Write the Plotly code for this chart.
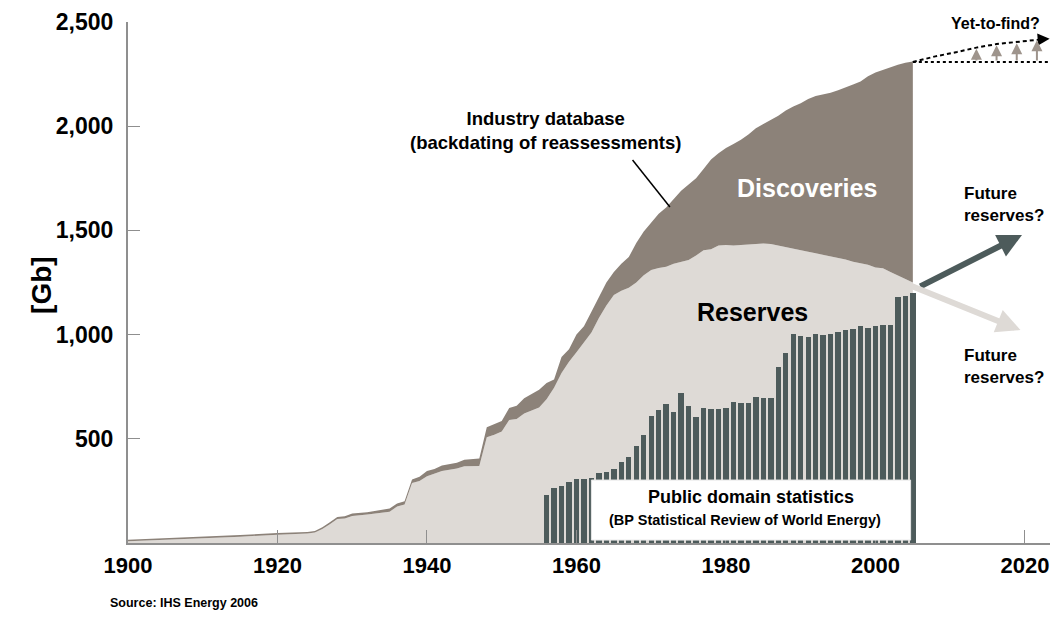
import plotly.graph_objects as go

# ---------------- data ----------------
area_years = [1900, 1905, 1910, 1915, 1920, 1924, 1925, 1926, 1927, 1928, 1929, 1930, 1932,
              1935, 1936, 1937, 1938, 1939, 1940, 1941, 1942, 1944, 1945, 1947, 1948, 1949,
              1950, 1951, 1952, 1953, 1954, 1955, 1956, 1957, 1958, 1959, 1960, 1961, 1962,
              1963, 1964, 1965, 1966, 1967, 1968, 1969, 1970, 1971, 1972, 1973, 1974, 1975,
              1976, 1977, 1978, 1979, 1980, 1981, 1982, 1983, 1984, 1985, 1986, 1987, 1988,
              1989, 1990, 1991, 1992, 1993, 1994, 1995, 1996, 1997, 1998, 1999, 2000, 2001,
              2002, 2003, 2004, 2005]
discoveries = [15, 22, 30, 38, 48, 53, 58, 75, 100, 125, 128, 142, 148,
               165, 190, 200, 305, 318, 345, 355, 372, 385, 400, 405, 555, 570,
               585, 648, 658, 695, 715, 735, 768, 785, 893, 930, 1000, 1040, 1110,
               1180, 1250, 1300, 1340, 1372, 1440, 1495, 1540, 1580, 1610, 1650, 1690, 1720,
               1750, 1795, 1840, 1870, 1895, 1915, 1935, 1960, 1990, 2010, 2030, 2050, 2075,
               2095, 2110, 2130, 2145, 2152, 2160, 2172, 2185, 2200, 2215, 2240, 2258, 2270,
               2285, 2295, 2305, 2310]
reserves = [8, 15, 22, 30, 40, 45, 50, 67, 90, 115, 118, 130, 137,
            150, 175, 185, 288, 298, 320, 332, 345, 358, 368, 370, 508, 520,
            535, 590, 595, 622, 635, 650, 690, 745, 816, 870, 915, 960, 1010,
            1080, 1140, 1190, 1210, 1225, 1250, 1285, 1310, 1320, 1325, 1340, 1350, 1358,
            1380, 1405, 1410, 1428, 1430, 1428, 1430, 1432, 1435, 1437, 1435, 1428, 1420,
            1415, 1405, 1398, 1390, 1383, 1375, 1368, 1360, 1350, 1344, 1335, 1322, 1318,
            1300, 1282, 1265, 1250]

bar_years = list(range(1956, 2006))
bp_reserves = [230, 265, 273, 294, 307, 307, 310, 334, 342, 355,
               390, 414, 467, 520, 611, 638, 667, 630, 718, 657,
               603, 646, 643, 643, 649, 678, 673, 673, 699, 696,
               696, 843, 911, 1003, 995, 990, 1003, 998, 1003, 1011,
               1022, 1027, 1041, 1030, 1041, 1046, 1046, 1182, 1185, 1198]

# yet-to-find sketch
ytf_flat_x = [2005, 2024]
ytf_flat_y = [2308, 2308]
ytf_curve_x = [2005, 2008, 2010.9, 2013.5, 2016.2, 2019, 2021.5, 2022.8]
ytf_curve_y = [2308, 2335, 2356, 2377, 2394, 2406, 2414, 2418]
ytf_arrow_x = [2013.5, 2016.2, 2018.9, 2021.6]
ytf_arrow_top = [2372, 2388, 2398, 2412]

x_ticks = [1900, 1920, 1940, 1960, 1980, 2000, 2020]
y_ticks = [500, 1000, 1500, 2000, 2500]
y_ticktext = ["500", "1,000", "1,500", "2,000", "2,500"]

X_RANGE = [1900, 2023.35]
Y_RANGE = [0, 2500]

FONT = "Liberation Sans, Arial, Helvetica, sans-serif"
C_DISC = "#8c8279"
C_RES = "#dedad6"
C_BAR = "#4d5b5b"
C_AXIS = "#8f8f8f"

fig = go.Figure()

fig.add_trace(go.Scatter(x=area_years, y=reserves, mode="lines", line=dict(width=0, color=C_RES),
                         fill="tozeroy", fillcolor=C_RES, showlegend=False, hoverinfo="skip"))
fig.add_trace(go.Scatter(x=area_years, y=discoveries, mode="lines", line=dict(width=0, color=C_DISC),
                         fill="tonexty", fillcolor=C_DISC, showlegend=False, hoverinfo="skip"))

# yet-to-find lines
fig.add_trace(go.Scatter(x=ytf_flat_x, y=ytf_flat_y, mode="lines",
                         line=dict(color="black", width=2, dash="dot"), showlegend=False,
                         cliponaxis=False))
fig.add_trace(go.Scatter(x=ytf_curve_x, y=ytf_curve_y, mode="lines",
                         line=dict(color="black", width=2, dash="4px,3px"), showlegend=False,
                         cliponaxis=False))

# bars on an overlaid axis so they sit above the areas
fig.add_trace(go.Bar(x=bar_years, y=bp_reserves, width=0.72, marker=dict(color=C_BAR, line=dict(width=0)),
                     xaxis="x2", yaxis="y2", showlegend=False))

# page has an 8px body margin and ~1050px visible width
fig.update_layout(
    width=1042, height=605,
    margin=dict(l=120, r=0, t=14, b=70),
    paper_bgcolor="white", plot_bgcolor="white",
    font=dict(family=FONT, color="black"),
    bargap=0,
    xaxis=dict(range=X_RANGE, tickvals=x_ticks, ticks="inside", ticklen=13, tickcolor=C_AXIS,
               tickwidth=1.2, showline=True, linecolor=C_AXIS, linewidth=2, showgrid=False,
               zeroline=False, tickfont=dict(size=22, weight="bold", family=FONT, color="black"),
               ticklabelstandoff=2),
    yaxis=dict(range=Y_RANGE, tickvals=y_ticks, ticktext=y_ticktext, ticks="inside", ticklen=12,
               tickcolor=C_AXIS, tickwidth=1.2, showline=True, linecolor=C_AXIS, linewidth=2,
               showgrid=False, zeroline=False,
               tickfont=dict(size=23, weight="bold", family=FONT, color="black"),
               ticklabelstandoff=8),
    xaxis2=dict(range=X_RANGE, overlaying="x", visible=False),
    yaxis2=dict(range=Y_RANGE, overlaying="y", visible=False),
)

# white box for public-domain label
fig.add_shape(type="rect", xref="x", yref="y", x0=1962.0, x1=2004.7, y0=14, y1=302,
              fillcolor="white", line=dict(color="#e6e6e6", width=1), layer="above")

def txt(x, y, s, size, color="black", xanchor="center", align="center", xref="x", yref="y", angle=0):
    fig.add_annotation(x=x, y=y, xref=xref, yref=yref, text=s, showarrow=False,
                       font=dict(size=size, color=color, family=FONT, weight="bold"),
                       xanchor=xanchor, yanchor="middle", align=align, textangle=angle)

txt(1983.3, 221, "Public domain statistics", 18)
txt(1982.5, 110, "(BP Statistical Review of World Energy)", 14.5)
txt(1990.8, 1703, "Discoveries", 25, color="white")
txt(1983.5, 1108, "Reserves", 25)
txt(1955.8, 1977, "Industry database<br>(backdating of reassessments)", 18.5)
txt(2016.0, 0.998, "Yet-to-find?", 16, yref="paper")
txt(2011.6, 1622, "Future<br>reserves?", 17, xanchor="left", align="left")
txt(2011.6, 849, "Future<br>reserves?", 17, xanchor="left", align="left")
txt(-0.0946, 0.495, "[Gb]", 28, xref="paper", yref="paper", angle=-90)
txt(-0.0215, -0.115, "Source: IHS Energy 2006", 12.5, xanchor="left", xref="paper", yref="paper")

# pointer line for industry database label
fig.add_shape(type="line", xref="x", yref="y", x0=1967.5, y0=1838, x1=1972.5, y1=1612,
              line=dict(color="black", width=1.5))

# future reserve arrows
fig.add_annotation(x=2019.6, y=1478, ax=2005.8, ay=1228, xref="x", yref="y", axref="x", ayref="y",
                   text="", showarrow=True, arrowhead=2, arrowsize=0.8, arrowwidth=6, arrowcolor=C_BAR)
fig.add_annotation(x=2019.4, y=1022, ax=2003.8, ay=1248, xref="x", yref="y", axref="x", ayref="y",
                   text="", showarrow=True, arrowhead=2, arrowsize=0.8, arrowwidth=6, arrowcolor=C_RES)

# yet-to-find arrow head and small upward arrows
fig.add_annotation(x=2023.3, y=2420, ax=2022.1, ay=2417, xref="x", yref="y", axref="x", ayref="y",
                   text="", showarrow=True, arrowhead=2, arrowsize=1.2, arrowwidth=2, arrowcolor="black")
for xa, yt in zip(ytf_arrow_x, ytf_arrow_top):
    fig.add_annotation(x=xa, y=yt, ax=xa, ay=2308, xref="x", yref="y", axref="x", ayref="y",
                       text="", showarrow=True, arrowhead=2, arrowsize=1.1, arrowwidth=2,
                       arrowcolor="#9e948c")

fig.write_html("out.html")
